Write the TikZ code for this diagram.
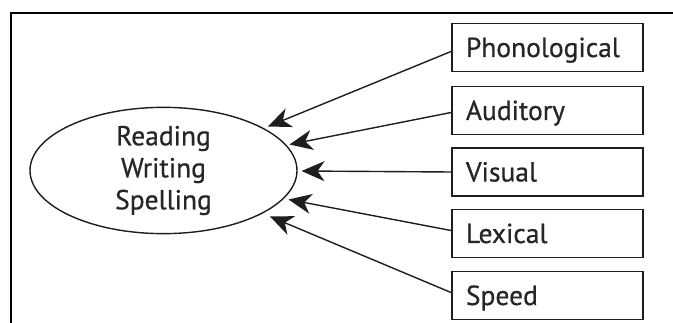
\documentclass[tikz,border=0pt]{standalone}
\usepackage{fontspec}
\newfontfamily\lblfont{PT Sans}[FakeBold=0.6]
\usetikzlibrary{shapes.geometric,arrows.meta}
\definecolor{ink}{HTML}{1E1E1E}
\definecolor{txt}{HTML}{262626}
\newcommand{\lbl}{\lblfont\fontsize{27.5}{32}\selectfont}
\begin{document}
\begin{tikzpicture}[x=1pt,y=-1pt,
  factor/.style={draw=ink,line width=1.9pt,anchor=west,
    minimum width=191pt,minimum height=48pt,inner xsep=14pt,inner ysep=0pt,
    text width=163pt,align=left,text height=19pt,text depth=0pt,
    font=\lbl,text=txt},
  skill/.style={draw=ink,line width=1.4pt,ellipse,inner sep=0pt,
    minimum width=267pt,minimum height=115pt,align=center,
    font=\lbl,text=txt},
  link/.style={draw=ink,line width=1.4pt,
    -{Stealth[length=23pt,width=20pt,inset=7pt]}}]
  \useasboundingbox (0,0) rectangle (673,323);
  \fill[white] (0,0) rectangle (673,323);

  % frame (open towards right and bottom)
  \draw[line width=2pt,black] (11,330) -- (11,13) -- (680,13);

  % central outcome
  \node[skill] (rws) at (163.5,170.5) {Reading\\Writing\\Spelling};

  % contributing factors
  \node[factor] (pho) at (451,47.5)  {Phonological};
  \node[factor] (aud) at (451,110.5) {Auditory};
  \node[factor] (vis) at (451,172)   {Visual};
  \node[factor] (lex) at (451,233.5) {Lexical};
  \node[factor] (spd) at (451,295.5) {Speed};

  % arrow tips, just outside the ellipse
  \coordinate (tpho) at (268,126.5);
  \coordinate (taud) at (289.5,144.5);
  \coordinate (tvis) at (301.5,171);
  \coordinate (tlex) at (288.5,199.5);
  \coordinate (tspd) at (270,216.5);

  \draw[link] ([yshift=-4pt]pho.west) -- (tpho);
  \draw[link] ([yshift=-2pt]aud.west) -- (taud);
  \draw[link] (vis.west) -- (tvis);
  \draw[link] ([yshift=3pt]lex.west) -- (tlex);
  \draw[link] ([yshift=3pt]spd.west) -- (tspd);
\end{tikzpicture}
\end{document}
